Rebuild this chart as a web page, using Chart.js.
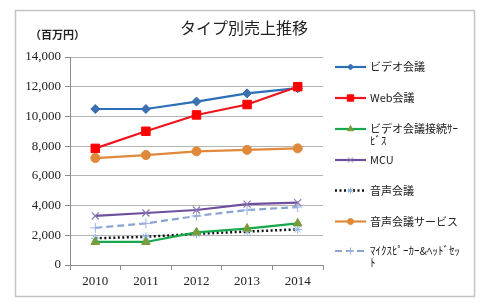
<!DOCTYPE html>
<html>
<head>
<meta charset="utf-8">
<script src="https://cdn.jsdelivr.net/npm/chart.js@4"></script>
<style>
	html, body { margin: 0; padding: 0; background: #fff; }
	#wrap { position: relative; width: 490px; height: 305px; }
</style>
</head>
<body>
<div id="wrap"><canvas id="chart" width="490" height="305"></canvas></div>
<script>
'use strict'

const years = ['2010', '2011', '2012', '2013', '2014']
const yTicks = [0, 2000, 4000, 6000, 8000, 10000, 12000, 14000]

const videoConf = [10500, 10500, 11000, 11550, 11900]
const webConf = [7850, 9000, 10100, 10800, 12000]
const videoService = [1550, 1550, 2200, 2450, 2800]
const mcu = [3300, 3500, 3700, 4100, 4200]
const audioConf = [1800, 1900, 2100, 2250, 2400]
const audioService = [7200, 7400, 7650, 7750, 7850]
const micHeadset = [2500, 2800, 3300, 3700, 3900]

// legend names, wrapped as in the original legend box
const seriesNames = [
	['ビデオ会議'],
	['Web会議'],
	['ビデオ会議接続ｻｰ', 'ﾋﾞｽ'],
	['MCU'],
	['音声会議'],
	['音声会議サービス'],
	['ﾏｲｸｽﾋﾟｰｶｰ&ﾍｯﾄﾞｾｯ', 'ﾄ'],
]

const serif = '"Liberation Serif", "DejaVu Serif", serif'
const jp = '"Noto Sans CJK JP", "Noto Sans", sans-serif'

function makeSet(name, data, color, style, markerColor, radius, extra) {
	return Object.assign({
		label: name.join(''),
		legendLines: name,
		data: data,
		borderColor: color,
		backgroundColor: markerColor,
		pointBorderColor: markerColor,
		pointBackgroundColor: markerColor,
		pointStyle: style,
		pointRadius: radius,
		pointBorderWidth: 1,
		borderWidth: 2.2,
		tension: 0,
		fill: false,
	}, extra || {})
}

const datasets = [
	makeSet(seriesNames[0], videoConf, '#2c6fb8', 'rectRot', '#3a6fb0', 4.5),
	makeSet(seriesNames[1], webConf, '#f0141c', 'rect', '#ff0000', 6, { order: -1 }),
	makeSet(seriesNames[2], videoService, '#16a84a', 'triangle', '#789c3c', 5),
	makeSet(seriesNames[3], mcu, '#6e4f9e', 'crossRot', '#8a76b4', 5, { pointBorderWidth: 1.2 }),
	makeSet(seriesNames[4], audioConf, '#111111', 'star', '#8cb8e6', 4.5, { borderDash: [2, 2.5], borderWidth: 2.5 }),
	makeSet(seriesNames[5], audioService, '#e0893a', 'circle', '#e0893a', 4.5),
	makeSet(seriesNames[6], micHeadset, '#8aa4d2', 'cross', '#9ab6e0', 5, { borderDash: [7, 4] }),
]

// layout positions for the legend, title and frame
const legendRows = [67, 98, 129, 160, 190.5, 221.5, 251]

const framePlugin = {
	id: 'frame',
	beforeDraw(chart) {
		const ctx = chart.ctx
		ctx.save()
		ctx.fillStyle = '#fff'
		ctx.fillRect(0, 0, chart.width, chart.height)
		ctx.strokeStyle = '#c4c4c4'
		ctx.lineWidth = 1.5
		ctx.strokeRect(15.5, 10.5, 459, 286)
		ctx.restore()
	},
	afterDraw(chart) {
		const ctx = chart.ctx
		ctx.save()
		ctx.fillStyle = '#222'
		ctx.textBaseline = 'middle'
		ctx.textAlign = 'center'
		ctx.font = '16px ' + jp
		ctx.fillText('タイプ別売上推移', 244, 28)
		ctx.textAlign = 'left'
		ctx.font = 'bold 11px ' + jp
		ctx.fillText('（百万円）', 30, 35)

		// legend
		chart.data.datasets.forEach((ds, i) => {
			const y = legendRows[i]
			ctx.save()
			ctx.strokeStyle = ds.borderColor
			ctx.lineWidth = ds.borderWidth
			ctx.setLineDash(ds.borderDash || [])
			ctx.beginPath()
			ctx.moveTo(335, y)
			ctx.lineTo(366, y)
			ctx.stroke()
			ctx.setLineDash([])
			ctx.fillStyle = ds.pointBackgroundColor
			ctx.strokeStyle = ds.pointBorderColor
			ctx.lineWidth = 1
			if (Chart.helpers && Chart.helpers.drawPoint) {
				Chart.helpers.drawPoint(ctx, {
					pointStyle: ds.pointStyle,
					radius: Math.max(3, ds.pointRadius - 1.5),
					rotation: 0,
					borderWidth: 1,
				}, 350.5, y)
			}
			ctx.restore()

			ctx.fillStyle = '#222'
			ctx.font = '11px ' + jp
			ds.legendLines.forEach((line, k) => ctx.fillText(line, 370, y + k * 12))
		})
		ctx.restore()
	},
}

new Chart(document.getElementById('chart'), {
	type: 'line',
	data: { labels: years, datasets: datasets },
	options: {
		responsive: false,
		animation: false,
		layout: { padding: { left: 0, right: 167, top: 57, bottom: 10 } },
		plugins: {
			legend: { display: false },
			title: { display: false },
			tooltip: { enabled: false },
		},
		scales: {
			x: {
				offset: true,
				grid: {
					offset: true,
					drawOnChartArea: false,
					drawTicks: true,
					tickLength: 5,
					color: '#8c8c8c',
				},
				border: { color: '#8c8c8c', width: 1 },
				ticks: {
					color: '#222',
					font: { family: serif, size: 13 },
					padding: 4,
					maxRotation: 0,
				},
				afterFit(scale) { scale.height = 30 },
			},
			y: {
				min: yTicks[0],
				max: yTicks[yTicks.length - 1],
				afterBuildTicks(scale) {
					scale.ticks = yTicks.map(v => ({ value: v }))
				},
				grid: {
					color: '#b4b4b4',
					lineWidth: 1,
					tickLength: 5,
					tickColor: '#8c8c8c',
				},
				border: { color: '#8c8c8c', width: 1 },
				ticks: {
					color: '#222',
					font: { family: serif, size: 13 },
					padding: 4,
					callback: v => v.toLocaleString('en-US'),
				},
				afterFit(scale) { scale.width = 70 },
			},
		},
	},
	plugins: [framePlugin],
})
</script>
</body>
</html>
